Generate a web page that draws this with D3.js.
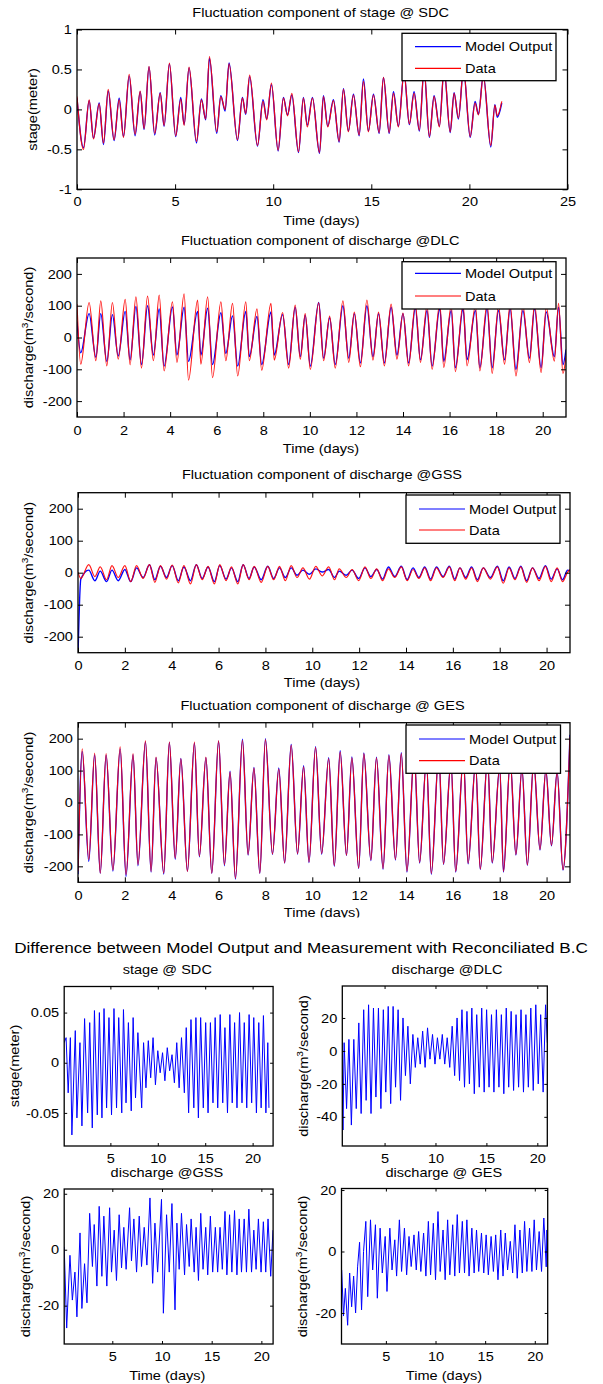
<!DOCTYPE html>
<html>
<head>
<meta charset="utf-8">
<script src="https://cdn.jsdelivr.net/npm/d3@7"></script>
<style>
  body { margin: 0; background: #fff; }
  svg text { font-family: "Liberation Sans", Arial, Helvetica, sans-serif; fill: #000; }
</style>
</head>
<body>
<svg id="fig" width="603" height="1384"></svg>
<script>
// ---- stage @ SDC (m), extrema ----
const sdcTime = [0, 0.33, 0.62, 0.84, 1.13, 1.35, 1.59, 1.89, 2.15, 2.37, 2.66, 2.96, 3.22, 3.42, 3.67, 3.96, 4.24, 4.44, 4.71, 5.03,
  5.29, 5.46, 5.71, 6.09, 6.34, 6.56, 6.75, 7.12, 7.33, 7.55, 7.75, 8.18, 8.43, 8.6, 8.8, 9.2, 9.48, 9.67, 9.91, 10.25,
  10.52, 10.73, 10.95, 11.29, 11.54, 11.74, 12.0, 12.36, 12.56, 12.78, 13.07, 13.36, 13.58, 13.83, 14.09, 14.38, 14.6, 14.85, 15.11, 15.4,
  15.62, 15.91, 16.13, 16.38, 16.67, 16.94, 17.18, 17.45, 17.69, 17.96, 18.2, 18.47, 18.71, 19.02, 19.22, 19.44, 19.7, 20.04, 20.29, 20.46,
  20.71, 21.09, 21.3, 21.42, 21.65];
const sdcData = [0.16, -0.5, 0.12, -0.37, 0.07, -0.42, 0.25, -0.38, 0.12, -0.35, 0.44, -0.31, 0.23, -0.24, 0.54, -0.3, 0.2, -0.2, 0.58, -0.33,
  0.13, -0.2, 0.53, -0.4, 0.12, -0.12, 0.66, -0.28, 0.16, 0.0, 0.57, -0.38, 0.14, -0.05, 0.43, -0.45, 0.1, -0.13, 0.33, -0.51,
  0.14, -0.08, 0.2, -0.53, 0.14, -0.22, 0.14, -0.54, 0.16, -0.22, 0.11, -0.4, 0.25, -0.28, 0.18, -0.32, 0.35, -0.28, 0.18, -0.29,
  0.4, -0.29, 0.2, -0.22, 0.45, -0.18, 0.2, -0.26, 0.5, -0.34, 0.16, -0.22, 0.5, -0.28, 0.2, -0.11, 0.5, -0.34, 0.08, -0.07,
  0.42, -0.45, 0.05, -0.08, 0.1];
const sdcModel = [0.14, -0.48, 0.11, -0.36, 0.08, -0.44, 0.23, -0.39, 0.14, -0.34, 0.42, -0.33, 0.22, -0.25, 0.53, -0.32, 0.21, -0.21, 0.57, -0.34,
  0.15, -0.19, 0.52, -0.42, 0.13, -0.13, 0.64, -0.3, 0.17, -0.02, 0.58, -0.39, 0.15, -0.06, 0.41, -0.46, 0.12, -0.12, 0.31, -0.52,
  0.15, -0.07, 0.18, -0.54, 0.15, -0.2, 0.15, -0.55, 0.17, -0.21, 0.12, -0.41, 0.26, -0.27, 0.19, -0.33, 0.38, -0.27, 0.19, -0.3,
  0.4, -0.3, 0.22, -0.21, 0.46, -0.19, 0.22, -0.27, 0.5, -0.35, 0.17, -0.21, 0.5, -0.29, 0.21, -0.12, 0.5, -0.35, 0.1, -0.06,
  0.43, -0.47, 0.06, -0.1, 0.08];

// ---- discharge @DLC (m3/s) ----
const dlcTime = [0, 0.16, 0.52, 0.81, 1.02, 1.28, 1.52, 1.77, 2.07, 2.28, 2.53, 2.77, 3.03, 3.28, 3.53, 3.74, 4.1, 4.29, 4.6, 4.79,
  5.18, 5.32, 5.61, 5.82, 6.18, 6.39, 6.68, 6.9, 7.25, 7.4, 7.73, 7.93, 8.33, 8.47, 8.83, 9.09, 9.37, 9.59, 9.8, 10.02,
  10.38, 10.59, 10.85, 11.09, 11.42, 11.67, 11.91, 12.17, 12.45, 12.71, 12.95, 13.2, 13.49, 13.74, 14.0, 14.24, 14.53, 14.75, 15.03, 15.25,
  15.58, 15.75, 16.07, 16.25, 16.58, 16.75, 17.11, 17.3, 17.61, 17.83, 18.1, 18.36, 18.6, 18.85, 19.15, 19.43, 19.65, 19.93, 20.15, 20.5,
  20.68, 20.87, 21.0];
const dlcData = [105, -84, 110, -73, 115, -89, 110, -68, 120, -86, 128, -96, 130, -73, 133, -105, 112, -78, 137, -134,
  118, -84, 128, -126, 112, -73, 107, -121, 112, -73, 90, -103, 107, -71, 78, -96, 102, -68, 75, -100,
  109, -73, 67, -96, 115, -78, 80, -92, 118, -71, 80, -89, 105, -68, 77, -89, 105, -78, 100, -100,
  108, -94, 100, -107, 105, -89, 100, -105, 108, -113, 100, -84, 105, -121, 100, -79, 105, -110, 95, -74,
  107, -113, -58];
const dlcModel = [50, -48, 75, -62, 75, -75, 72, -58, 82, -70, 98, -85, 100, -55, 90, -90, 96, -55, 95, -75,
  82, -55, 92, -85, 78, -50, 68, -90, 82, -60, 66, -85, 80, -55, 72, -85, 95, -60, 70, -90,
  110, -65, 62, -85, 100, -65, 75, -80, 100, -60, 75, -80, 95, -55, 75, -80, 92, -70, 85, -90,
  92, -75, 85, -95, 90, -70, 85, -95, 90, -95, 85, -70, 90, -100, 85, -65, 90, -95, 80, -60,
  95, -85, -38];

// ---- discharge @GSS (m3/s) ----
const gssTime = [0, 0.12, 0.46, 0.72, 0.95, 1.22, 1.45, 1.72, 2.0, 2.25, 2.5, 2.78, 3.05, 3.28, 3.52, 3.78, 4.02, 4.28, 4.52, 4.8,
  5.05, 5.3, 5.55, 5.82, 6.05, 6.32, 6.55, 6.82, 7.05, 7.3, 7.52, 7.82, 8.1, 8.35, 8.6, 8.85, 9.1, 9.35, 9.6, 9.88,
  10.15, 10.42, 10.7, 10.95, 11.15, 11.45, 11.7, 11.98, 12.25, 12.5, 12.75, 13.0, 13.25, 13.52, 13.8, 14.05, 14.3, 14.55, 14.8, 15.05,
  15.3, 15.58, 15.85, 16.08, 16.3, 16.55, 16.8, 17.05, 17.3, 17.6, 17.9, 18.15, 18.4, 18.65, 18.9, 19.15, 19.4, 19.68, 19.95, 20.2,
  20.45, 20.68, 20.9, 21.0];
const gssData = [2, -18, 25, -12, 18, -22, 22, -15, 22, -28, 22, -18, 25, -30, 22, -20, 24, -32, 22, -35,
  25, -22, 20, -35, 25, -25, 18, -35, 25, -22, 20, -30, 20, -22, 20, -25, 22, -15, 15, -20,
  20, -10, 18, -22, 12, -15, 10, -25, 18, -18, 12, -25, 12, -15, 18, -25, 10, -18, 15, -25,
  15, -15, 18, -25, 15, -20, 15, -28, 15, -20, 18, -33, 15, -22, 18, -30, 15, -25, 20, -28,
  15, -28, 2, 10];
const gssModel = [-260, -20, 8, -25, 5, -28, 8, -25, 10, -28, 15, -15, 25, -22, 20, -15, 22, -25, 18, -25,
  25, -18, 18, -28, 22, -20, 15, -28, 25, -18, 18, -22, 20, -18, 15, -15, 15, -8, 8, -5,
  12, 2, 10, -15, 5, -8, 8, -18, 15, -12, 10, -20, 18, -12, 20, -22, 15, -15, 18, -20,
  18, -12, 20, -20, 15, -15, 18, -22, 15, -15, 20, -25, 18, -18, 20, -25, 15, -18, 22, -20,
  12, -22, 8, 5];

// ---- discharge @ GES (m3/s) ----
const gesTime = [0, 0.18, 0.46, 0.71, 0.95, 1.2, 1.49, 1.8, 2.05, 2.35, 2.56, 2.88, 3.12, 3.33, 3.66, 3.9, 4.15, 4.39, 4.67, 4.97,
  5.18, 5.46, 5.71, 6.0, 6.25, 6.49, 6.72, 7.02, 7.26, 7.51, 7.76, 8.0, 8.3, 8.57, 8.82, 9.1, 9.37, 9.63, 9.86, 10.14,
  10.4, 10.7, 10.94, 11.19, 11.46, 11.69, 11.98, 12.2, 12.5, 12.74, 13.02, 13.27, 13.55, 13.8, 14.04, 14.35, 14.58, 14.87, 15.08, 15.4,
  15.6, 15.92, 16.12, 16.45, 16.65, 16.97, 17.17, 17.48, 17.68, 18.0, 18.16, 18.45, 18.69, 18.95, 19.18, 19.45, 19.72, 19.97, 20.21, 20.45,
  20.7, 21.0];
const gesData = [-215, 168, -179, 155, -221, 153, -211, 174, -226, 153, -195, 193, -216, 142, -221, 189, -174, 137, -216, 189,
  -168, 142, -221, 193, -195, 95, -237, 195, -163, 108, -221, 197, -161, 105, -189, 179, -160, 112, -186, 172,
  -160, 137, -198, 158, -165, 140, -205, 153, -180, 140, -207, 147, -178, 153, -215, 150, -188, 130, -222, 150,
  -192, 125, -216, 140, -190, 120, -208, 135, -188, 110, -216, 130, -163, 105, -195, 125, -147, 100, -134, 95,
  -210, 205];
const gesModel = [-225, 160, -185, 150, -222, 148, -215, 168, -232, 150, -198, 190, -218, 140, -224, 188, -178, 138, -215, 186,
  -170, 140, -222, 192, -198, 98, -240, 198, -165, 110, -222, 200, -163, 108, -190, 182, -162, 115, -188, 175,
  -162, 140, -200, 162, -166, 143, -207, 155, -182, 142, -209, 150, -180, 156, -218, 152, -190, 132, -225, 152,
  -194, 127, -218, 142, -192, 122, -210, 137, -190, 112, -218, 132, -165, 107, -197, 127, -149, 102, -136, 97,
  -212, 212];

// ---- differences, model minus measurement: [day, value] ----
const diffSdc = [[0.13, 0.02], [0.33, 0.025], [0.55, -0.03], [0.78, 0.025], [0.94, -0.072], [1.3, 0.032], [1.47, -0.055], [1.79, 0.02],
  [2.0, -0.063], [2.28, 0.044], [2.6, -0.05], [2.82, 0.04], [3.09, -0.065], [3.32, 0.052], [3.62, -0.052], [3.84, 0.05],
  [4.11, -0.055], [4.33, 0.054], [4.6, -0.045], [4.85, 0.045], [5.12, -0.052], [5.38, 0.054], [5.65, -0.045], [5.88, 0.045],
  [6.2, -0.05], [6.38, 0.053], [6.65, -0.04], [6.9, 0.04], [7.2, -0.048], [7.4, 0.045], [7.65, -0.035], [7.9, 0.03],
  [8.3, -0.045], [8.5, 0.02], [8.75, -0.025], [9.0, 0.022], [9.25, -0.015], [9.5, 0.025], [9.75, -0.022], [10.0, 0.012],
  [10.25, -0.01], [10.5, 0.01], [10.75, -0.018], [11.0, 0.015], [11.25, -0.008], [11.5, 0.008], [11.75, -0.02], [12.0, 0.02],
  [12.25, -0.025], [12.5, 0.025], [12.8, -0.03], [13.0, 0.035], [13.25, -0.05], [13.5, 0.043], [13.8, -0.045], [14.02, 0.045],
  [14.28, -0.055], [14.52, 0.045], [14.8, -0.045], [15.05, 0.04], [15.3, -0.05], [15.55, 0.04], [15.82, -0.04], [16.05, 0.045],
  [16.32, -0.045], [16.58, 0.048], [16.85, -0.04], [17.08, 0.035], [17.35, -0.05], [17.6, 0.048], [17.85, -0.04], [18.1, 0.04],
  [18.35, -0.045], [18.62, 0.05], [18.88, -0.04], [19.12, 0.04], [19.38, -0.045], [19.63, 0.048], [19.9, -0.04], [20.12, 0.045],
  [20.4, -0.05], [20.65, 0.04], [20.9, -0.045], [21.14, 0.047], [21.4, -0.05], [21.6, 0.02], [21.72, -0.045]];
const diffDlc = [[0.86, -15], [0.92, -48], [1.03, 5], [1.27, -35], [1.5, 7], [1.74, -45], [1.98, 7], [2.22, -35],
  [2.47, 17], [2.7, -38], [2.95, 25], [3.19, -30], [3.43, 28], [3.67, -38], [3.91, 26], [4.15, -28],
  [4.4, 26], [4.64, -35], [4.88, 25], [5.12, -25], [5.36, 27], [5.6, -32], [5.84, 27], [6.08, -22],
  [6.33, 25], [6.57, -30], [6.81, 20], [7.05, -15], [7.29, 15], [7.53, -20], [7.78, 10], [8.02, -10],
  [8.26, 8], [8.5, -8], [8.74, 12], [8.98, -10], [9.22, 14], [9.46, -5], [9.71, 10], [9.95, -8],
  [10.19, 8], [10.43, -5], [10.67, 10], [10.91, -8], [11.15, 8], [11.4, -10], [11.64, 15], [11.88, -15],
  [12.12, 20], [12.36, -18], [12.6, 25], [12.85, -22], [13.09, 24], [13.33, -20], [13.57, 26], [13.81, -26],
  [14.05, 22], [14.3, -22], [14.54, 26], [14.78, -25], [15.02, 25], [15.26, -22], [15.5, 22], [15.74, -25],
  [15.98, 25], [16.23, -22], [16.47, 22], [16.71, -26], [16.95, 26], [17.19, -22], [17.43, 24], [17.67, -24],
  [17.91, 22], [18.16, -22], [18.4, 25], [18.64, -25], [18.88, 22], [19.12, -22], [19.36, 26], [19.6, -24],
  [19.85, 28], [20.09, -20], [20.33, 22], [20.57, -25], [20.81, 28], [20.98, 5]];
const diffGss = [[0.16, 1], [0.41, -28], [0.74, -2], [0.98, -18], [1.24, -8], [1.44, -24], [1.75, 6], [1.94, -21],
  [2.21, -5], [2.45, -19], [2.72, 13], [3.0, -6], [3.18, 9], [3.45, -13], [3.68, 15.5], [3.95, -9.5],
  [4.15, 12], [4.45, -13], [4.73, 15], [4.92, -8], [5.19, 7], [5.42, -11], [5.69, 12.5], [5.93, -6.5],
  [6.16, 8], [6.39, -7], [6.74, 15], [6.93, -4], [7.17, 11], [7.44, -8], [7.71, 12], [7.94, -6],
  [8.21, 8], [8.48, -5.5], [8.79, 18.5], [9.06, -12], [9.29, 9.5], [9.56, -8], [9.95, 18], [10.14, -22.7],
  [10.46, 12.5], [10.73, -8], [11.0, 16.5], [11.31, -21.5], [11.5, 9.5], [11.73, -7], [11.96, 13], [12.27, -9],
  [12.47, 9], [12.74, -6], [12.93, 11], [13.24, -8], [13.43, 8], [13.67, -11], [13.9, 13], [14.13, -7],
  [14.4, 8], [14.6, -9], [14.87, 12], [15.1, -8], [15.37, 8], [15.6, -8], [15.84, 8], [16.07, -7],
  [16.34, 13.7], [16.53, -9], [16.8, 12.5], [17.03, -8], [17.3, 14], [17.54, -9], [17.77, 11], [18.0, -8],
  [18.27, 11], [18.5, -8], [18.74, 14.5], [19.01, -8], [19.24, 7], [19.47, -7], [19.7, 11], [19.97, -8],
  [20.2, 10], [20.44, -8], [20.67, 11], [20.94, -9.5], [21.17, 7]];
const diffGes = [[0.55, -6], [0.73, -21], [0.92, -12], [1.15, -24], [1.35, -7], [1.55, -18], [1.75, -8], [1.95, -20],
  [2.15, -5], [2.35, 3], [2.55, -19], [2.75, 0], [2.98, 9.8], [3.17, -14.7], [3.45, 10.3], [3.67, -6],
  [3.95, 8.7], [4.14, -15.2], [4.42, 7.6], [4.64, -7], [4.93, 4.9], [5.11, -13], [5.4, 7.6], [5.62, -6],
  [5.9, 3.8], [6.08, -8], [6.36, 10.3], [6.58, -6.5], [6.87, 7.6], [7.09, -7.6], [7.33, 4.9], [7.55, -4.9],
  [7.83, 5.4], [8.06, -6], [8.3, 6.5], [8.52, -6.5], [8.8, 6], [9.03, -8], [9.28, 9.8], [9.5, -7.6],
  [9.78, 9.2], [10.0, -9.2], [10.25, 13], [10.47, -6.5], [10.76, 7], [10.97, -9.2], [11.22, 10.3], [11.44, -7.6],
  [11.73, 8.7], [11.94, -8], [12.19, 12], [12.41, -7], [12.7, 9.8], [12.92, -7], [13.16, 10.3], [13.38, -8],
  [13.66, 7.6], [13.89, -7], [14.13, 7], [14.35, -6.5], [14.63, 6], [14.86, -7], [15.1, 5.4], [15.32, -7.6],
  [15.6, 4.9], [15.83, -6.5], [16.06, 5.4], [16.29, -9.2], [16.57, 7], [16.8, -8], [17.03, 6], [17.26, -6],
  [17.53, 3.3], [17.77, -7], [18.0, 8.7], [18.23, -8.7], [18.5, 7], [18.74, -7], [18.97, 9.8], [19.2, -6.5],
  [19.47, 7.6], [19.71, -6.5], [19.94, 10.3], [20.17, -6], [20.44, 6.5], [20.68, -6.5], [20.91, 10.9], [21.15, -5],
  [21.22, 7], [21.3, -2.7]];

const evenDays = [0, 2, 4, 6, 8, 10, 12, 14, 16, 18, 20];
const fiveDays = [5, 10, 15, 20];
const dischargeTicks = [-200, -100, 0, 100, 200];

const svg = d3.select('#fig');
const sx = 1.12; // the figure's Helvetica runs wider than Arial
const discharge = [{text: 'discharge(m'}, {text: '3', sup: true}, {text: '/second)'}];
let clipCount = 0;

function addText(parent, x, y, parts, opts = {}) {
  if (typeof parts === 'string') parts = [{text: parts}];
  const t = parent.append('text')
    .attr('transform', `translate(${x},${y})${opts.rotate ? ' rotate(-90)' : ''} scale(${sx},1)`)
    .attr('text-anchor', opts.anchor || 'middle')
    .attr('font-size', opts.size || 13);
  let back = 0;
  parts.forEach((p, i) => {
    const span = t.append('tspan').text(p.text);
    let dy = i === 0 ? (opts.size || 13) * 0.35 : 0;
    if (p.sup) {
      span.attr('font-size', 9);
      dy -= 5;
      back = 5;
    } else if (back) {
      dy += back;
      back = 0;
    }
    if (dy) span.attr('dy', dy);
  });
  return t;
}

function drawPanel(p) {
  const x = d3.scaleLinear().domain(p.xDomain).range([p.left, p.right]);
  const y = d3.scaleLinear().domain(p.yDomain).range([p.bottom, p.top]);
  const g = svg.append('g');
  const clipId = 'clip' + (clipCount++);

  g.append('clipPath').attr('id', clipId)
    .append('rect')
    .attr('x', p.left).attr('y', p.top)
    .attr('width', p.right - p.left).attr('height', p.bottom - p.top);

  const plot = g.append('g').attr('clip-path', `url(#${clipId})`);
  p.series.forEach((s) => {
    const line = d3.line()
      .x((d) => x(d[0]))
      .y((d) => y(d[1]))
      .curve(s.curve || d3.curveLinear);
    plot.append('path')
      .datum(s.points)
      .attr('d', line)
      .attr('fill', 'none')
      .attr('stroke', s.color)
      .attr('stroke-width', s.width)
      .attr('stroke-opacity', s.opacity || 1)
      .attr('stroke-linejoin', 'round');
  });

  const fmt = (d) => String(d);
  const len = p.tickLen;
  g.append('g').attr('transform', `translate(0,${p.bottom})`)
    .call(d3.axisBottom(x).tickValues(p.xTicks).tickSizeInner(-len).tickSizeOuter(0)
      .tickPadding(p.xPad).tickFormat(fmt));
  g.append('g').attr('transform', `translate(0,${p.top})`)
    .call(d3.axisTop(x).tickValues(p.xTicks).tickSizeInner(-len).tickSizeOuter(0).tickFormat(''));
  g.append('g').attr('transform', `translate(${p.left},0)`)
    .call(d3.axisLeft(y).tickValues(p.yTicks).tickSizeInner(-len).tickSizeOuter(0)
      .tickPadding(4.5).tickFormat(fmt));
  g.append('g').attr('transform', `translate(${p.right},0)`)
    .call(d3.axisRight(y).tickValues(p.yTicks).tickSizeInner(-len).tickSizeOuter(0).tickFormat(''));

  g.selectAll('.domain').remove();
  g.selectAll('.tick line').attr('stroke', '#000').attr('stroke-width', 1);
  g.selectAll('.tick text')
    .attr('font-size', 13)
    .attr('font-family', null)
    .attr('fill', '#000')
    .attr('transform', `scale(${sx},1)`);
  g.selectAll('g').attr('font-family', null).attr('font-size', null);

  g.append('rect')
    .attr('x', p.left).attr('y', p.top)
    .attr('width', p.right - p.left).attr('height', p.bottom - p.top)
    .attr('fill', 'none').attr('stroke', '#000').attr('stroke-width', 1.3);

  addText(g, p.title[0], p.title[1], p.title[2]);
  addText(g, p.ylabel[0], p.ylabel[1], p.ylabel[2], {rotate: true});
  if (p.xlabel) addText(g, p.xlabel[0], p.xlabel[1], 'Time (days)');

  if (p.legend) {
    const L = p.legend;
    g.append('rect')
      .attr('x', L.x).attr('y', L.y).attr('width', L.w).attr('height', L.h)
      .attr('fill', '#fff').attr('stroke', '#000').attr('stroke-width', 1.3);
    [['Model Output', '#0000ff'], ['Data', '#ff0000']].forEach(([name, color], i) => {
      g.append('line')
        .attr('x1', L.x + 13).attr('x2', L.x + 59)
        .attr('y1', L.rows[i]).attr('y2', L.rows[i])
        .attr('stroke', color).attr('stroke-width', 1.2);
      addText(g, L.x + 63, L.rows[i], name, {anchor: 'start'});
    });
  }
}

const pairs = (t, v) => t.map((d, i) => [d, v[i]]);

function mainSeries(t, model, data) {
  return [
    {points: pairs(t, model), color: '#0000ff', width: 1.4, curve: d3.curveMonotoneX},
    {points: pairs(t, data), color: '#ff0000', width: 1.2, opacity: 0.9, curve: d3.curveMonotoneX},
  ];
}

drawPanel({
  left: 77, right: 567.5, top: 29.5, bottom: 189.3,
  xDomain: [0, 25], yDomain: [-1, 1],
  xTicks: [0, 5, 10, 15, 20, 25], yTicks: [-1, -0.5, 0, 0.5, 1],
  xPad: 7.8, tickLen: 5,
  series: mainSeries(sdcTime, sdcModel, sdcData),
  title: [320.6, 12.3, 'Fluctuation component of stage @ SDC'],
  ylabel: [32.7, 109.4, 'stage(meter)'],
  xlabel: [321.5, 220],
  legend: {x: 402, y: 33.3, w: 154, h: 47.4, rows: [46.7, 68.3]},
});

drawPanel({
  left: 77, right: 566, top: 258, bottom: 417,
  xDomain: [0, 21], yDomain: [-250, 250],
  xTicks: evenDays, yTicks: dischargeTicks,
  xPad: 9, tickLen: 5,
  series: mainSeries(dlcTime, dlcModel, dlcData),
  title: [320.2, 240.7, 'Fluctuation component of discharge @DLC'],
  ylabel: [28.8, 337.5, discharge],
  xlabel: [321, 448.3],
  legend: {x: 402, y: 261.7, w: 154, h: 47.3, rows: [273.3, 296]},
});

drawPanel({
  left: 78, right: 570, top: 492.7, bottom: 652.7,
  xDomain: [0, 21], yDomain: [-250, 250],
  xTicks: evenDays, yTicks: dischargeTicks,
  xPad: 7.7, tickLen: 5,
  series: mainSeries(gssTime, gssModel, gssData),
  title: [322, 474, 'Fluctuation component of discharge @GSS'],
  ylabel: [28.8, 572.7, discharge],
  xlabel: [322, 682.7],
  legend: {x: 406, y: 495, w: 154, h: 48.3, rows: [509, 530]},
});

drawPanel({
  left: 78, right: 570, top: 722.7, bottom: 882.3,
  xDomain: [0, 21], yDomain: [-250, 250],
  xTicks: evenDays, yTicks: dischargeTicks,
  xPad: 8.1, tickLen: 5,
  series: mainSeries(gesTime, gesModel, gesData),
  title: [322.5, 705, 'Fluctuation component of discharge @ GES'],
  ylabel: [28.8, 802.5, discharge],
  xlabel: [322, 912.7],
  legend: {x: 406, y: 725, w: 154.5, h: 48.3, rows: [739, 760.7]},
});

// the lower figure's background cuts off the last "Time (days)"
svg.append('rect').attr('x', 0).attr('y', 917.5).attr('width', 603).attr('height', 22).attr('fill', '#fff');

addText(svg, 301, 947.3, 'Difference between Model Output and Measurement with Reconciliated B.C', {size: 15.3});

const diffLine = (pts) => [{points: pts, color: '#0000ff', width: 1}];

drawPanel({
  left: 64.2, right: 273.1, top: 986.5, bottom: 1146,
  xDomain: [0.13, 22.16], yDomain: [-0.083, 0.076],
  xTicks: fiveDays, yTicks: [-0.05, 0, 0.05],
  xPad: 7.4, tickLen: 3,
  series: diffLine(diffSdc),
  title: [167.3, 969, 'stage @ SDC'],
  ylabel: [14, 1066, 'stage(meter)'],
});

drawPanel({
  left: 342.3, right: 547.3, top: 986, bottom: 1146,
  xDomain: [0.85, 20.98], yDomain: [-57.7, 39.4],
  xTicks: fiveDays, yTicks: [-40, -20, 0, 20],
  xPad: 7.4, tickLen: 3,
  series: diffLine(diffDlc),
  title: [447.1, 969, 'discharge @DLC'],
  ylabel: [303.8, 1066, discharge],
});

drawPanel({
  left: 64.2, right: 273.1, top: 1189, bottom: 1344,
  xDomain: [0.16, 21.18], yDomain: [-33.7, 21.7],
  xTicks: fiveDays, yTicks: [-20, 0, 20],
  xPad: 8.1, tickLen: 3,
  series: diffLine(diffGss),
  title: [166.9, 1172.3, 'discharge @GSS'],
  ylabel: [25, 1266.5, discharge],
  xlabel: [167.3, 1375],
});

drawPanel({
  left: 341.5, right: 547.7, top: 1188.5, bottom: 1344,
  xDomain: [0.53, 21.3], yDomain: [-30.1, 20.5],
  xTicks: fiveDays, yTicks: [-20, 0, 20],
  xPad: 8.1, tickLen: 3,
  series: diffLine(diffGes),
  title: [443.8, 1172.3, 'discharge @ GES'],
  ylabel: [302, 1266.5, discharge],
  xlabel: [444, 1375],
});
</script>
</body>
</html>
